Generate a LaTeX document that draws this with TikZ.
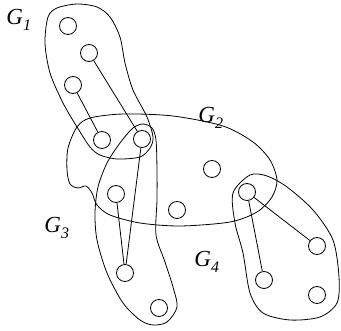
\documentclass[tikz,border=0pt]{standalone}
\usepackage{fontspec}
\setmainfont{Liberation Serif}
\begin{document}
\begin{tikzpicture}[x=1pt,y=-1pt,line width=0.8pt,
  vtx/.style={circle,draw,minimum size=17pt,inner sep=0pt},
  hull/.style={draw,line width=0.8pt},
  glabel/.style={anchor=base west,inner sep=0pt,font=\fontsize{23}{23}\selectfont\itshape}]
\useasboundingbox (0,0) rectangle (341,331);
% vertices
\node[vtx] (n1) at (68,26) {};
\node[vtx] (n2) at (89,53) {};
\node[vtx] (n3) at (73,85) {};
\node[vtx] (n4) at (102,140) {};
\node[vtx] (n5) at (142,139) {};
\node[vtx] (n6) at (212,169) {};
\node[vtx] (n7) at (116,194) {};
\node[vtx] (n8) at (177,210) {};
\node[vtx] (n9) at (125,273) {};
\node[vtx] (n10) at (159,308) {};
\node[vtx] (n11) at (247,192) {};
\node[vtx] (n12) at (317,246) {};
\node[vtx] (n13) at (264,280) {};
\node[vtx] (n14) at (317,295) {};
% edges
\draw (n2) -- (n5);
\draw (n3) -- (n4);
\draw (n5) -- (n9);
\draw (n7) -- (n9);
\draw (n11) -- (n12);
\draw (n11) -- (n13);
% hulls
\draw[hull] plot[smooth cycle] coordinates {(77,4) (97,7) (110,17) (120,37) (125,63) (133,90) (147,117) (153,137) (150,148) (140,157) (117,159) (100,155) (90,147) (77,127) (63,103) (50,73) (45,43) (48,17) (57,8)};
\draw[hull] plot[smooth cycle] coordinates {(143,124) (152,128) (156,140) (157,170) (157,200) (156,235) (165,262) (173,287) (177,307) (167,322) (153,325) (140,320) (123,303) (107,273) (97,240) (95,213) (98,187) (107,163) (120,143) (133,128)};
\draw[hull] plot[smooth cycle] coordinates {(77,127) (90,118) (123,114) (173,116) (223,126) (253,142) (270,160) (277,180) (272,197) (257,212) (230,222) (180,226) (140,223) (110,215) (97,205) (92,193) (86,186) (78,188) (70,184) (67,170) (68,148)};
\draw[hull] plot[smooth cycle] coordinates {(250,175) (267,176) (287,187) (313,210) (333,240) (339,277) (337,303) (320,317) (290,320) (263,313) (250,293) (243,253) (235,223) (233,193)};
% labels
\node[glabel] (l1) at (6,25) {G\raisebox{-0.22em}{\fontsize{16}{16}\selectfont 1}};
\node[glabel] (l2) at (198,123) {G\raisebox{-0.22em}{\fontsize{16}{16}\selectfont 2}};
\node[glabel] (l3) at (44,233) {G\raisebox{-0.22em}{\fontsize{16}{16}\selectfont 3}};
\node[glabel] (l4) at (194,267) {G\raisebox{-0.22em}{\fontsize{16}{16}\selectfont 4}};
\end{tikzpicture}
\end{document}
